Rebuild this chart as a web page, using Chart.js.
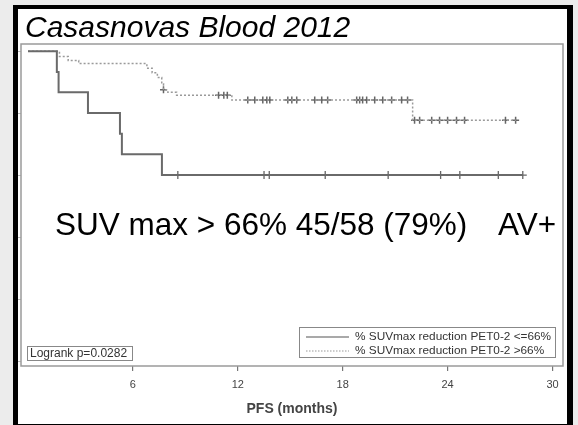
<!DOCTYPE html>
<html>
<head>
<meta charset="utf-8">
<title>Casasnovas Blood 2012</title>
<script src="https://cdn.jsdelivr.net/npm/chart.js@4.4.1/dist/chart.umd.min.js"></script>
<style>
  html, body { margin: 0; padding: 0; background: #ececec; }
  canvas { display: block; }
</style>
</head>
<body>
<canvas id="km-chart" width="578" height="425"></canvas>
<script>
  "use strict";

  // PFS (months) at each step and survival after the step
  var lowTimes = [0, 1.65, 1.75, 3.43, 5.26, 5.37, 7.66, 28.3];
  var lowSurv = [1, 0.933, 0.867, 0.8, 0.733, 0.667, 0.6, 0.6];
  var lowCensor = [8.57, 13.5, 13.8, 17.0, 20.6, 23.6, 24.7, 26.9, 28.3];

  var highTimes = [0, 1.8, 2.3, 2.9, 6.8, 7.1, 7.4, 7.65, 7.75, 8.0, 8.5, 11.66, 22.0, 27.9];
  var highSurv = [1, 0.983, 0.97, 0.96, 0.945, 0.93, 0.915, 0.895, 0.875, 0.867, 0.858, 0.842, 0.777, 0.777];
  var highCensor = [7.75, 10.9, 11.2, 11.4, 12.57, 12.97, 13.43, 13.66, 13.83, 14.86, 15.09, 15.37,
    16.4, 16.8, 17.14, 18.8, 18.97, 19.14, 19.37, 19.83, 20.29, 20.8, 21.37, 21.71,
    22.11, 22.4, 23.09, 23.54, 24.0, 24.51, 24.97, 27.31, 27.89];

  var xTicks = [6, 12, 18, 24, 30];
  var yTicks = [0, 0.2, 0.4, 0.6, 0.8, 1];
  var legendLabels = ["% SUVmax reduction PET0-2 <=66%", "% SUVmax reduction PET0-2 >66%"];
  var titleText = "Casasnovas Blood 2012";
  var noteText = ["SUV max > 66% 45/58 (79%)", "AV+"];
  var logrankText = "Logrank p=0.0282";

  function steps(times, surv) {
    return times.map(function (t, i) { return { x: t, y: surv[i] }; });
  }
  function censorPoints(cens, times, surv) {
    return cens.map(function (c) {
      var s = surv[0];
      for (var i = 0; i < times.length; i++) {
        if (times[i] <= c) s = surv[i];
      }
      return { x: c, y: s };
    });
  }

  // Frame, title, notes, legend and logrank box
  var decorations = {
    id: "decorations",
    beforeDraw: function (chart) {
      var ctx = chart.ctx;
      ctx.save();
      ctx.fillStyle = "#ececec";
      ctx.fillRect(0, 0, 578, 425);
      ctx.fillStyle = "#ffffff";
      ctx.fillRect(16, 7, 553, 420);
      ctx.restore();
    },
    afterDraw: function (chart) {
      var ctx = chart.ctx;
      var a = chart.chartArea;
      ctx.save();

      // plot box
      ctx.strokeStyle = "#9a9a9a";
      ctx.lineWidth = 1.5;
      ctx.strokeRect(a.left, a.top, a.right - a.left, a.bottom - a.top);

      // title
      ctx.fillStyle = "#000";
      ctx.textBaseline = "alphabetic";
      ctx.font = "italic 30px 'Liberation Sans', Arial, sans-serif";
      ctx.fillText(titleText, 25, 37);

      // note
      ctx.font = "31.5px 'Liberation Sans', Arial, sans-serif";
      ctx.fillText(noteText[0], 55, 235);
      ctx.fillText(noteText[1], 498, 235);

      // logrank box
      ctx.fillStyle = "#fff";
      ctx.fillRect(27, 346, 105, 14);
      ctx.strokeStyle = "#888";
      ctx.lineWidth = 1;
      ctx.strokeRect(27.5, 346.5, 105, 14);
      ctx.fillStyle = "#333";
      ctx.font = "12px 'Liberation Sans', Arial, sans-serif";
      ctx.textBaseline = "middle";
      ctx.fillText(logrankText, 30, 354);

      // legend
      ctx.fillStyle = "#fff";
      ctx.fillRect(299, 327, 256, 30);
      ctx.strokeStyle = "#888";
      ctx.strokeRect(299.5, 327.5, 256, 30);
      var rows = [337, 351];
      ctx.lineWidth = 1.2;
      ctx.strokeStyle = "#555";
      ctx.setLineDash([]);
      ctx.beginPath(); ctx.moveTo(306, rows[0]); ctx.lineTo(349, rows[0]); ctx.stroke();
      ctx.strokeStyle = "#999";
      ctx.setLineDash([1.5, 1.5]);
      ctx.beginPath(); ctx.moveTo(306, rows[1]); ctx.lineTo(349, rows[1]); ctx.stroke();
      ctx.setLineDash([]);
      ctx.fillStyle = "#333";
      ctx.font = "11.8px 'Liberation Sans', Arial, sans-serif";
      ctx.fillText(legendLabels[0], 355, rows[0]);
      ctx.fillText(legendLabels[1], 355, rows[1]);

      // black frame
      ctx.fillStyle = "#000";
      ctx.fillRect(13, 5, 560, 4);
      ctx.fillRect(13, 5, 5, 420);
      ctx.fillRect(567, 5, 6, 420);
      ctx.fillRect(13, 424, 560, 1);
      ctx.restore();
    }
  };

  var ctx = document.getElementById("km-chart").getContext("2d");
  var kmChart = new Chart(ctx, {
    type: "scatter",
    data: {
      datasets: [
        {
          label: legendLabels[0],
          data: steps(lowTimes, lowSurv),
          showLine: true,
          stepped: "before",
          borderColor: "#6a6a6a",
          borderWidth: 2,
          pointRadius: 0,
        },
        {
          label: legendLabels[1],
          data: steps(highTimes, highSurv),
          showLine: true,
          stepped: "before",
          borderColor: "#9a9a9a",
          borderWidth: 1.5,
          borderDash: [2, 2],
          pointRadius: 0,
        },
        {
          label: "censored low",
          data: censorPoints(lowCensor, lowTimes, lowSurv),
          showLine: false,
          pointStyle: "cross",
          pointRadius: 4,
          borderColor: "#666",
          borderWidth: 1.3,
        },
        {
          label: "censored high",
          data: censorPoints(highCensor, highTimes, highSurv),
          showLine: false,
          pointStyle: "cross",
          pointRadius: 3.5,
          borderColor: "#666",
          borderWidth: 1.5,
        },
      ],
    },
    options: {
      responsive: false,
      animation: false,
      layout: { padding: { left: 0, top: 44, right: 15, bottom: 0 } },
      plugins: {
        legend: { display: false },
        tooltip: { enabled: false },
        title: { display: false },
      },
      scales: {
        x: {
          type: "linear",
          min: -0.4,
          max: 30.6,
          afterBuildTicks: function (scale) {
            scale.ticks = xTicks.map(function (v) { return { value: v }; });
          },
          afterFit: function (scale) { scale.height = 59; },
          border: { display: false },
          grid: {
            drawOnChartArea: false,
            drawTicks: true,
            tickLength: 5,
            color: "#777",
            lineWidth: 1.2,
          },
          ticks: {
            color: "#444",
            padding: 7,
            font: { family: "'Liberation Sans', Arial, sans-serif", size: 11 },
          },
          title: {
            display: true,
            text: "PFS (months)",
            color: "#444",
            font: { family: "'Liberation Sans', Arial, sans-serif", size: 14, weight: "bold" },
            padding: { top: 0, bottom: 7 },
          },
        },
        y: {
          type: "linear",
          min: -0.016,
          max: 1.023,
          afterBuildTicks: function (scale) {
            scale.ticks = yTicks.map(function (v) { return { value: v }; });
          },
          afterFit: function (scale) { scale.width = 21; },
          border: { display: false },
          grid: {
            drawOnChartArea: false,
            drawTicks: true,
            tickLength: 3,
            color: "#bbb",
          },
          ticks: { display: false },
        },
      },
    },
    plugins: [decorations],
  });
</script>
</body>
</html>
